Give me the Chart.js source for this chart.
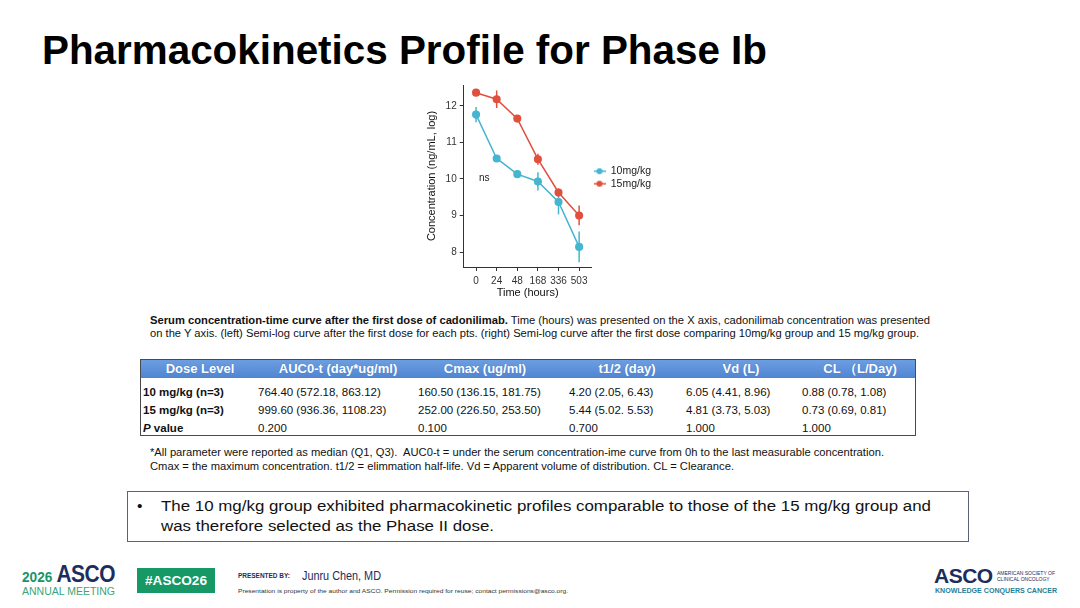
<!DOCTYPE html>
<html>
<head>
<meta charset="utf-8">
<script src="https://cdn.jsdelivr.net/npm/chart.js@4.4.1/dist/chart.umd.min.js"></script>
<style>
  body { margin: 0; width: 1080px; height: 608px; background: #fff; position: relative; overflow: hidden;
         font-family: "Liberation Sans", Arial, sans-serif; color: #000; }
  .a { position: absolute; white-space: nowrap; transform-origin: 0 50%; }
  #title { left: 42px; top: 28px; font: bold 41px "Liberation Sans Narrow", "Liberation Sans", sans-serif; line-height: 44px; }
  #chartBox { position: absolute; left: 410px; top: 76px; width: 250px; height: 232px; }
  .cap { font-size: 10px; line-height: 12px; color: #111; }
  .hdr { position: absolute; left: 140px; top: 359px; width: 776px; height: 19px;
         background: linear-gradient(#6e9fe2, #5085d2); }
  .frame { position: absolute; left: 140px; top: 359px; width: 774px; height: 75px; border: 1.5px solid #4a4a4a; }
  .th { color: #fff; font-weight: bold; font-size: 13px; line-height: 19px; top: 359px; transform: translateX(-50%); text-shadow: 0 0 1px #3d6fb8; }
  .td { font-size: 11.5px; line-height: 14px; color: #111; }
  .bx { position: absolute; left: 127px; top: 491px; width: 840px; height: 49px; border: 1px solid #5b6378; }
  .bl { font-size: 15.5px; line-height: 20px; color: #111; }
</style>
</head>
<body>
<div id="title" class="a" data-w="725">Pharmacokinetics Profile for Phase Ib</div>

<div id="chartBox"><canvas id="pk"></canvas></div>

<div class="a cap" style="left:150px;top:315px" data-w="780"><b>Serum concentration-time curve after the first dose of cadonilimab.</b> Time (hours) was presented on the X axis, cadonilimab concentration was presented</div>
<div class="a cap" style="left:150px;top:328px" data-w="769">on the Y axis. (left) Semi-log curve after the first dose for each pts. (right) Semi-log curve after the first dose comparing 10mg/kg group and 15 mg/kg group.</div>

<div class="hdr"></div>
<div class="frame"></div>
<div class="a th" style="left:200px">Dose Level</div>
<div class="a th" style="left:338px">AUC0-t (day*ug/ml)</div>
<div class="a th" style="left:485px">Cmax (ug/ml)</div>
<div class="a th" style="left:627px">t1/2 (day)</div>
<div class="a th" style="left:741px">Vd (L)</div>
<div class="a th" style="left:860px">CL （L/Day)</div>
<div id="tbody"></div>

<div class="a cap" style="left:150px;top:447px" data-w="734">*All parameter were reported as median (Q1, Q3).&nbsp; AUC0-t = under the serum concentration-ime curve from 0h to the last measurable concentration.</div>
<div class="a cap" style="left:150px;top:461px" data-w="584">Cmax = the maximum concentration. t1/2 = elimmation half-life. Vd = Apparent volume of distribution. CL = Clearance.</div>

<div class="bx"></div>
<div class="a bl" style="left:137px;top:496px">•</div>
<div class="a bl" style="left:161px;top:496px" data-w="770">The 10 mg/kg group exhibited pharmacokinetic profiles comparable to those of the 15 mg/kg group and</div>
<div class="a bl" style="left:161px;top:516px" data-w="333">was therefore selected as the Phase II dose.</div>

<!-- footer -->
<div class="a" style="left:22px;top:565px;font-weight:bold;line-height:18px" data-w="93"><span style="color:#17956a;font-size:15px">2026</span> <span style="color:#1d2d5c;font-size:23px;letter-spacing:-0.5px">ASCO</span></div>
<div class="a" style="left:22px;top:586px;color:#3aa57b;font-size:10.5px;line-height:11px" data-w="93">ANNUAL MEETING</div>
<div style="position:absolute;left:137px;top:568px;width:78px;height:25px;background:#179867"></div>
<div class="a" style="left:145px;top:568px;color:#fff;font-weight:bold;font-size:13.5px;line-height:25px" data-w="62">#ASCO26</div>
<div class="a" style="left:238px;top:572px;color:#1d2d5c;font-weight:bold;font-size:6.5px;line-height:8px" data-w="52">PRESENTED BY:</div>
<div class="a" style="left:302px;top:569px;color:#1d2d5c;font-size:12px;line-height:14px" data-w="79">Junru Chen, MD</div>
<div class="a" style="left:238px;top:587px;color:#333;font-size:6px;line-height:8px" data-w="330">Presentation is property of the author and ASCO. Permission required for reuse; contact permissions@asco.org.</div>
<div class="a" style="left:934px;top:566px;color:#1d2d5c;font-weight:bold;font-size:21px;line-height:20px;letter-spacing:-0.5px">ASCO</div>
<div class="a" style="left:997px;top:570px;color:#1d2d5c;font-size:5px;line-height:6px">AMERICAN SOCIETY OF<br>CLINICAL ONCOLOGY</div>
<div class="a" style="left:935px;top:587px;color:#1e7f9c;font-weight:bold;font-size:7px;line-height:8px" data-w="122">KNOWLEDGE CONQUERS CANCER</div>

<script>
// ---- data ----
const timeLabels = ['0', '24', '48', '168', '336', '503'];
const conc10 = [11.76, 10.56, 10.13, 9.93, 9.37, 8.14];
const err10  = [0.21, 0.04, 0.03, 0.25, 0.34, 0.42];
const conc15 = [12.36, 12.18, 11.65, 10.54, 9.63, 9.00];
const err15  = [0.05, 0.24, 0.03, 0.15, 0.11, 0.27];
const yTicks = [8, 9, 10, 11, 12];
const seriesNames = ['10mg/kg', '15mg/kg'];
const seriesColors = ['#45b5d0', '#e0503c'];

// table
const doseRows = ['10 mg/kg (n=3)', '15 mg/kg (n=3)', 'P value'];
const aucCol  = ['764.40 (572.18, 863.12)', '999.60 (936.36, 1108.23)', '0.200'];
const cmaxCol = ['160.50 (136.15, 181.75)', '252.00 (226.50, 253.50)', '0.100'];
const halfCol = ['4.20 (2.05, 6.43)', '5.44 (5.02. 5.53)', '0.700'];
const vdCol   = ['6.05 (4.41, 8.96)', '4.81 (3.73, 5.03)', '1.000'];
const clCol   = ['0.88 (0.78, 1.08)', '0.73 (0.69, 0.81)', '1.000'];

const colLeft = [143, 258, 418, 569, 686, 802];
const rowMid = [392, 410, 428];
const tbody = document.getElementById('tbody');
[doseRows, aucCol, cmaxCol, halfCol, vdCol, clCol].forEach((col, c) => {
  col.forEach((txt, r) => {
    const d = document.createElement('div');
    d.className = 'a td';
    d.style.left = colLeft[c] + 'px';
    d.style.top = (rowMid[r] - 7) + 'px';
    if (c === 0) {
      d.style.fontWeight = 'bold';
      d.innerHTML = r === 2 ? '<i>P</i> value' : txt;
    } else {
      d.textContent = txt;
    }
    tbody.appendChild(d);
  });
});

// squeeze text lines to the widths seen on the slide
document.querySelectorAll('[data-w]').forEach(el => {
  const w = el.getBoundingClientRect().width;
  el.style.transform = 'scaleX(' + (+el.dataset.w / w) + ')';
});

Chart.defaults.font.family = '"Liberation Sans", Arial, sans-serif';

function legendGlyph(color) {
  const c = document.createElement('canvas');
  c.width = 12; c.height = 8;
  const g = c.getContext('2d');
  g.strokeStyle = color; g.lineWidth = 1.5;
  g.beginPath(); g.moveTo(0, 4); g.lineTo(12, 4); g.stroke();
  g.fillStyle = color;
  g.beginPath(); g.arc(6, 4, 3, 0, Math.PI * 2); g.fill();
  return c;
}

const errorBars = {
  id: 'errorBars',
  beforeDatasetsDraw(chart) {
    const { ctx, scales: { x, y } } = chart;
    chart.data.datasets.forEach(ds => {
      ctx.save();
      ctx.strokeStyle = ds.borderColor;
      ctx.lineWidth = 1.5;
      ds.data.forEach((p, j) => {
        const e = ds.errors[j];
        const px = x.getPixelForValue(p.x);
        ctx.beginPath();
        ctx.moveTo(px, y.getPixelForValue(p.y - e));
        ctx.lineTo(px, y.getPixelForValue(p.y + e));
        ctx.stroke();
      });
      ctx.restore();
    });
  }
};

const nsLabel = {
  id: 'nsLabel',
  afterDatasetsDraw(chart) {
    const { ctx, scales: { x, y } } = chart;
    ctx.save();
    ctx.font = '10px "Liberation Sans", Arial, sans-serif';
    ctx.fillStyle = '#222';
    ctx.textAlign = 'center';
    ctx.textBaseline = 'middle';
    ctx.fillText('ns', x.getPixelForValue(0.4), y.getPixelForValue(10.02));
    ctx.restore();
  }
};

const toPts = arr => arr.map((v, i) => ({ x: i, y: v }));

new Chart(document.getElementById('pk'), {
  type: 'line',
  data: {
    datasets: [
      { label: seriesNames[0], data: toPts(conc10), errors: err10, borderColor: seriesColors[0], backgroundColor: seriesColors[0],
        borderWidth: 1.5, pointRadius: 3.3, pointHoverRadius: 3.3, tension: 0 },
      { label: seriesNames[1], data: toPts(conc15), errors: err15, borderColor: seriesColors[1], backgroundColor: seriesColors[1],
        borderWidth: 1.5, pointRadius: 3.3, pointHoverRadius: 3.3, tension: 0 }
    ]
  },
  options: {
    responsive: true,
    maintainAspectRatio: false,
    animation: false,
    layout: { padding: { top: 5, right: 8, bottom: 0, left: 0 } },
    scales: {
      x: {
        type: 'linear', min: -0.6, max: 5.6,
        afterBuildTicks: s => { s.ticks = timeLabels.map((t, i) => ({ value: i })); },
        afterFit: s => { s.height = 41; },
        ticks: { callback: v => timeLabels[v], font: { size: 10 }, color: '#333', padding: 4, maxRotation: 0 },
        grid: { drawOnChartArea: false, drawTicks: true, tickLength: 4, color: '#333' },
        border: { display: true, color: '#333', width: 1 },
        title: { display: true, text: 'Time (hours)', font: { size: 11 }, color: '#111', padding: { top: 8, bottom: 8 } }
      },
      y: {
        type: 'linear', min: 7.59, max: 12.57,
        afterBuildTicks: s => { s.ticks = yTicks.map(v => ({ value: v })); },
        afterFit: s => { s.width = 53.7; },
        ticks: { font: { size: 10 }, color: '#333', padding: 3 },
        grid: { drawOnChartArea: false, drawTicks: true, tickLength: 4, color: '#333' },
        border: { display: true, color: '#333', width: 1 },
        title: { display: true, text: 'Concentration (ng/mL, log)', font: { size: 11 }, color: '#111', padding: { top: 15, bottom: 4 } }
      }
    },
    plugins: {
      tooltip: { enabled: false },
      legend: {
        position: 'right',
        align: 'start',
        title: { display: true, text: '', font: { size: 10 }, padding: { top: 71, bottom: 0 } },
        labels: {
          usePointStyle: true, pointStyleWidth: 12, boxHeight: 8, padding: 2,
          font: { size: 10.5 }, color: '#222',
          generateLabels: chart => Chart.defaults.plugins.legend.labels.generateLabels(chart)
            .map((it, i) => Object.assign(it, { pointStyle: legendGlyph(seriesColors[i]) }))
        }
      }
    }
  },
  plugins: [errorBars, nsLabel]
});
</script>
</body>
</html>
